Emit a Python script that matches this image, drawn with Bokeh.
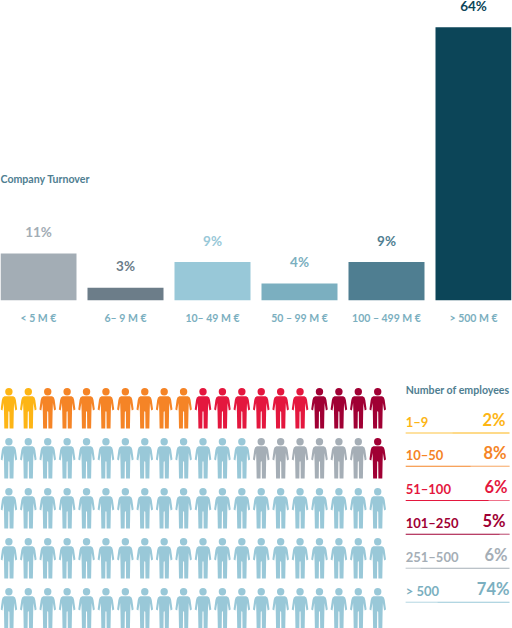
from bokeh.embed import file_html
from bokeh.resources import INLINE
from bokeh.plotting import figure
from bokeh.layouts import column
from bokeh.models import ColumnDataSource, FactorRange, Range1d
from bokeh.core.properties import value

FONT = "Lato"

# ---- data ----
turnover_cats = ["< 5 M €", "6– 9 M €", "10– 49 M €", "50 – 99 M €", "100 – 499 M €", "> 500 M €"]
turnover_vals = [11, 3, 9, 4, 9, 64]
turnover_cols = ["#a3adb5", "#6c7d89", "#98c8d8", "#7bafc0", "#4f7e91", "#0c4558"]
turnover_lbls = ["11%", "3%", "9%", "4%", "9%", "64%"]

emp_cats = ["1–9", "10–50", "51–100", "101–250", "251–500", "> 500"]
emp_pcts = [2, 8, 6, 5, 6, 74]
emp_cols = ["#fdb515", "#f58426", "#e4173e", "#a00034", "#a5aeb6", "#99c8d8"]
emp_lbl_cols = ["#fdb515", "#f58426", "#e4173e", "#a00034", "#a5aeb6", "#7bafc0"]
# pictogram: colour index of every person, row by row
row_groups = [
    [(0, 2), (1, 8), (2, 6), (3, 4)],
    [(5, 13), (4, 6), (3, 1)],
    [(5, 20)],
    [(5, 20)],
    [(5, 20)],
]

# ---- bars ----
x_range = FactorRange(factors=turnover_cats, range_padding=-0.0632, range_padding_units="absolute")
p1 = figure(width=512, height=350, x_range=x_range, y_range=Range1d(0, 300 / 4.27),
            output_backend="svg", toolbar_location=None,
            min_border_left=0, min_border_right=1, min_border_top=0, min_border_bottom=50)
src = ColumnDataSource(dict(cat=turnover_cats, val=turnover_vals, col=turnover_cols, lbl=turnover_lbls))
p1.vbar(x="cat", top="val", width=76 / 87, fill_color="col", line_color=None, source=src)
p1.text(x="cat", y="val", text="lbl", text_color="col", text_align="center", text_baseline="middle",
        y_offset=-21.5, text_font=value(FONT), text_font_size="13.5px", text_font_style="bold", source=src)
p1.yaxis.visible = False
p1.grid.visible = False
p1.outline_line_color = None
ax = p1.xaxis[0]
ax.axis_line_color = None
ax.major_tick_line_color = None
ax.minor_tick_line_color = None
ax.major_label_standoff = 5
ax.major_label_text_font = FONT
ax.major_label_text_font_style = "bold"
ax.major_label_text_font_size = "10.5px"
ax.major_label_text_color = "#7bafc0"
p1.text(x=[turnover_cats[0]], y=[122 / 4.27], text=["Company Turnover"], x_offset=-38, text_color="#4f7e91",
        text_align="left", text_baseline="middle", text_font=value(FONT),
        text_font_size="10.6px", text_font_style="bold")

# ---- pictogram + legend (pixel-like coordinates) ----
p2 = figure(width=512, height=278, x_range=Range1d(0, 512), y_range=Range1d(628, 350),
            output_backend="svg", toolbar_location=None,
            min_border_left=0, min_border_right=0, min_border_top=0, min_border_bottom=0)
p2.axis.visible = False
p2.grid.visible = False
p2.outline_line_color = None

half = [(0, 8.2), (4.4, 8.2), (6.2, 9.4), (7.0, 12.0), (8.3, 21.6), (6.4, 22.6), (5.2, 15.0), (4.9, 24.0),
        (4.6, 40.5), (0.7, 40.5), (0.5, 24.0), (0, 23.0)]
body = half + [(-a, b) for a, b in reversed(half[:-1])]
xs, ys, cols, hx, hy = [], [], [], [], []
for r, groups in enumerate(row_groups):
    c = 0
    for idx, n in groups:
        for _ in range(n):
            cx = 8.4 + 19.45 * c
            top = 387.5 + 50 * r
            xs.append([cx + a for a, b in body])
            ys.append([top + b for a, b in body])
            cols.append(emp_cols[idx])
            hx.append(cx)
            hy.append(top + 3.8)
            c += 1
p2.patches(xs, ys, fill_color=cols, line_color=None)
p2.circle(hx, hy, radius=3.7, fill_color=cols, line_color=None)

p2.text(x=[406], y=[389], text=["Number of employees"], text_color="#4f7e91", text_align="left",
        text_baseline="middle", text_font=value(FONT), text_font_size="10.6px", text_font_style="bold")
rule_y = [432.5, 465.7, 500, 533.7, 567.7, 601.7]
pct_x = [506, 507, 508, 506, 508, 510]
rule_light_from = [406, 471, 489, 500, 406, 406]
rule_light_to = [453, 510, 510, 510, 421, 438]
pct_lbls = [f"{v}%" for v in emp_pcts]
p2.text(x=[406] * 6, y=[y - 11.5 for y in rule_y], text=emp_cats, text_color=emp_lbl_cols, text_align="left",
        text_baseline="middle", text_font=value(FONT), text_font_size="13px", text_font_style="bold")
p2.text(x=pct_x, y=[y - 13.5 for y in rule_y], text=pct_lbls, text_color=emp_lbl_cols, text_align="right",
        text_baseline="middle", text_font=value(FONT), text_font_size="16.5px", text_font_style="bold")
p2.segment(x0=[406] * 6, x1=[510] * 6, y0=rule_y, y1=rule_y, line_color=emp_cols, line_width=1.1)
p2.segment(x0=rule_light_from, x1=rule_light_to, y0=rule_y, y1=rule_y, line_color="#ffffff", line_alpha=0.4, line_width=1.2)

layout = column(p1, p2, spacing=0)
open("out.html", "w").write(file_html(layout, INLINE))
